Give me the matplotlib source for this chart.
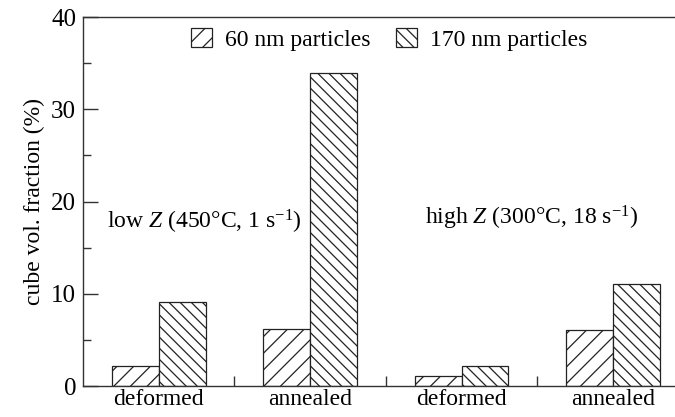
import matplotlib
matplotlib.use('Agg')
import matplotlib.pyplot as plt
import numpy as np

plt.rcParams['font.family'] = ['Liberation Serif', 'DejaVu Serif']
plt.rcParams['mathtext.fontset'] = 'custom'
plt.rcParams['mathtext.rm'] = 'Liberation Serif'
plt.rcParams['mathtext.it'] = 'Liberation Serif:italic'
plt.rcParams['hatch.linewidth'] = 0.9

# data
states = ['deformed', 'annealed', 'deformed', 'annealed']
small_60nm = [2.2, 6.2, 1.1, 6.1]
large_170nm = [9.1, 33.9, 2.2, 11.1]
series_labels = ['60 nm particles', '170 nm particles']

x = np.arange(len(states))
w = 0.31

fig = plt.figure(figsize=(6.75, 4.17), dpi=100)
ax = fig.add_axes([0.123, 0.074, 0.877, 0.885])

ax.bar(x - w/2, small_60nm, w, color='white', edgecolor='#222222', linewidth=0.9,
       hatch='//', label=series_labels[0])
ax.bar(x + w/2, large_170nm, w, color='white', edgecolor='#222222', linewidth=0.9,
       hatch='\\\\\\', label=series_labels[1])

ax.set_xlim(-0.5, 3.41)
ax.set_ylim(0, 40)
ax.spines['right'].set_visible(False)
for s in ['left', 'bottom', 'top']:
    ax.spines[s].set_linewidth(1.0)
    ax.spines[s].set_color('#333333')

ax.set_yticks([0, 10, 20, 30, 40])
ax.set_yticks([5, 15, 25, 35], minor=True)
ax.tick_params(axis='y', which='major', direction='in', length=11, width=1.0,
               labelsize=18, pad=5, right=False, color='#333333')
ax.tick_params(axis='y', which='minor', direction='in', length=6, width=1.0,
               right=False, color='#333333')

ax.set_xticks(x)
ax.set_xticklabels(states)
ax.set_xticks([0.5, 1.5, 2.5], minor=True)
ax.tick_params(axis='x', which='major', length=0, labelsize=17, pad=2, top=False)
ax.tick_params(axis='x', which='minor', direction='in', length=7, width=1.0,
               top=False, color='#333333')

ax.set_ylabel('cube vol. fraction (%)', fontsize=17, labelpad=4)

ax.text(0.30, 17.8, 'low $Z$ (450°C, 1 s$^{-1}$)', ha='center', va='center', fontsize=17)
ax.text(2.46, 18.2, 'high $Z$ (300°C, 18 s$^{-1}$)', ha='center', va='center', fontsize=17)

ax.legend(loc='upper center', bbox_to_anchor=(0.517, 1.01), ncol=2, frameon=False,
          fontsize=17, handlelength=0.9, handleheight=0.9, handletextpad=0.55,
          columnspacing=1.05, borderaxespad=0.2)

fig.savefig('out.png', dpi=100)
